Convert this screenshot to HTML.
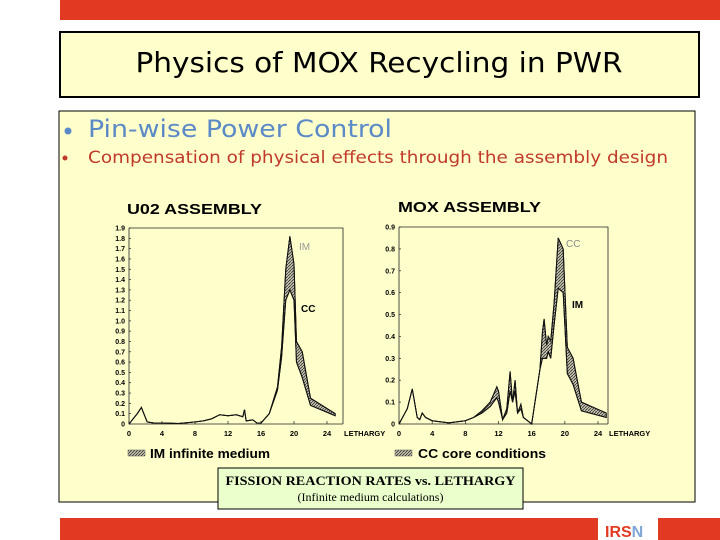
<!DOCTYPE html>
<html><head><meta charset="utf-8"><style>
html,body{margin:0;padding:0;background:#fff;}
svg{display:block;}
text{font-family:"Liberation Sans",sans-serif;}
</style></head><body>
<svg id="s" width="720" height="540" viewBox="0 0 720 540" xmlns="http://www.w3.org/2000/svg">
<defs>
<pattern id="hatch" width="3" height="3" patternUnits="userSpaceOnUse">
<rect width="3" height="3" fill="#c9c6b0"/>
<path d="M0,3 L3,0" stroke="#333" stroke-width="0.8"/>
</pattern>
</defs>
<rect x="60" y="0" width="660" height="20" fill="#e23a22"/>
<rect x="60" y="32" width="639" height="65" fill="#ffffcc" stroke="#000" stroke-width="2"/>
<text x="379" y="72" font-size="28" text-anchor="middle" textLength="487" lengthAdjust="spacingAndGlyphs" fill="#000" style='font-family:"DejaVu Sans Condensed","Liberation Sans",sans-serif'>Physics of MOX Recycling in PWR</text>
<rect x="59" y="111" width="636" height="391" fill="#ffffcc" stroke="#000" stroke-width="1"/>
<circle cx="68" cy="131" r="3.5" fill="#5b8ac6"/>
<text x="88" y="137" font-size="24" fill="#5b8ac6" textLength="304" lengthAdjust="spacingAndGlyphs" style='font-family:"DejaVu Sans Condensed","Liberation Sans",sans-serif'>Pin-wise Power Control</text>
<circle cx="65" cy="158" r="2.5" fill="#c0392b"/>
<text x="88" y="163" font-size="17" fill="#c0392b" textLength="580" lengthAdjust="spacingAndGlyphs" style='font-family:"DejaVu Sans Condensed","Liberation Sans",sans-serif'>Compensation of physical effects through the assembly design</text>

<text x="127" y="214" font-size="15" font-weight="bold" textLength="135" lengthAdjust="spacingAndGlyphs">U02 ASSEMBLY</text>
<text x="398" y="212" font-size="15" font-weight="bold" textLength="143" lengthAdjust="spacingAndGlyphs">MOX ASSEMBLY</text>
<g id="c1"></g><g id="c2"></g>

<rect x="128" y="450" width="17" height="6" fill="url(#hatch)" stroke="#555" stroke-width="0.5"/>
<text x="150" y="458" font-size="13" font-weight="bold" textLength="120" lengthAdjust="spacingAndGlyphs">IM infinite medium</text>
<rect x="395" y="450" width="17" height="6" fill="url(#hatch)" stroke="#555" stroke-width="0.5"/>
<text x="418" y="458" font-size="13" font-weight="bold" textLength="128" lengthAdjust="spacingAndGlyphs">CC core conditions</text>

<rect x="218" y="468" width="305" height="41" fill="#eaffcc" stroke="#000" stroke-width="1"/>
<text x="370.5" y="485" font-size="12.5" font-weight="bold" text-anchor="middle" textLength="290" lengthAdjust="spacingAndGlyphs" style='font-family:"Liberation Serif",serif'>FISSION REACTION RATES  vs. LETHARGY</text>
<text x="370.5" y="501" font-size="12" text-anchor="middle" style='font-family:"Liberation Serif",serif'>(Infinite medium calculations)</text>

<rect x="60" y="518" width="660" height="22" fill="#e23a22"/>
<rect x="598" y="518" width="60" height="22" fill="#fff"/>
<text x="605" y="537" font-size="16" font-weight="bold" fill="#e23a22">IRS<tspan fill="#7fa6d6">N</tspan></text>
</svg>
<script>
// UO2 assembly data
const uoX  = [0,0.5,1,1.5,1.8,2.2,3,4,6,8,9,10,11,12,13,13.8,14,14.2,15,15.5,16,17,18,18.5,19,19.5,20,20.3,21,22,25];
const uoIM = [0,0.05,0.1,0.16,0.1,0.02,0.01,0.01,0.005,0.02,0.03,0.05,0.09,0.08,0.09,0.07,0.14,0.03,0.04,0.01,0.01,0.1,0.36,0.75,1.5,1.82,1.55,0.8,0.7,0.25,0.1];
const uoCC = [0,0.05,0.1,0.16,0.1,0.02,0.01,0.01,0.005,0.02,0.03,0.05,0.09,0.08,0.09,0.07,0.14,0.03,0.04,0.01,0.01,0.1,0.33,0.65,1.2,1.3,1.2,0.6,0.45,0.18,0.08];
const uoYTicks = ["0","0.1","0.2","0.3","0.4","0.5","0.6","0.7","0.8","0.9","1.0","1.1","1.2","1.3","1.4","1.5","1.6","1.7","1.8","1.9"];
// MOX assembly data
const moX  = [0,1,1.6,2.2,2.5,2.8,3.2,4,6,8,9,10,11,11.8,12,12.5,13,13.4,13.7,14,14.3,14.7,15,16,17,17.3,17.5,17.8,18,18.3,18.7,19.2,19.8,20.3,21,22,25];
const moCC = [0,0.07,0.16,0.03,0.02,0.05,0.03,0.015,0.005,0.015,0.03,0.06,0.1,0.17,0.15,0.02,0.07,0.24,0.1,0.2,0.05,0.09,0.03,0,0.25,0.42,0.48,0.36,0.4,0.38,0.55,0.85,0.8,0.35,0.3,0.1,0.05];
const moIM = [0,0.07,0.16,0.03,0.02,0.05,0.03,0.015,0.005,0.015,0.03,0.05,0.08,0.12,0.1,0.02,0.05,0.15,0.1,0.15,0.05,0.07,0.03,0,0.25,0.3,0.3,0.3,0.33,0.3,0.45,0.62,0.6,0.23,0.18,0.06,0.03];
const moYTicks = ["0","0.1","0.2","0.3","0.4","0.5","0.6","0.7","0.8","0.9"];
const xTicks = ["0","4","8","12","16","20","24"];

const NS="http://www.w3.org/2000/svg";
function mk(tag,attrs,parent){const e=document.createElementNS(NS,tag);for(const k in attrs)e.setAttribute(k,attrs[k]);parent.appendChild(e);return e;}

function chart(g,xs,up,lo,yTicks,yMax,x0,x24,right,yTop,yBot,prefix,labels){
  const sx=v=>x0+(x24-x0)*v/24, sy=v=>yBot-(yBot-yTop)*v/yMax;
  const frame=mk('path',{d:`M${x0},${yTop} L${right},${yTop} L${right},${yBot} M${x0},${yTop} L${x0},${yBot} L${right},${yBot}`,fill:'none',stroke:'#222','stroke-width':0.8},g);
  
  
  yTicks.forEach((t,i)=>{const v=parseFloat(t),y=sy(v);
    const tx=mk('text',{x:x0-4,y:y+2.5,'font-size':7,'font-weight':'bold','text-anchor':'end'},g);tx.textContent=t;
    
    
    mk('line',{x1:x0,x2:x0+2,y1:y,y2:y,stroke:'#222','stroke-width':0.7},g);
  });
  xTicks.forEach(t=>{const v=+t,x=sx(v);
    const tx=mk('text',{x:x,y:yBot+12,'font-size':7.5,'font-weight':'bold','text-anchor':'middle'},g);tx.textContent=t;
    
    
    mk('line',{x1:x,x2:x,y1:yBot,y2:yBot-3,stroke:'#222','stroke-width':0.7},g);
  });
  const xl=mk('text',{x:right+1,y:yBot+12,'font-size':7.5,'font-weight':'bold'},g);xl.textContent='LETHARGY';
  
  
  let pts=xs.map((x,i)=>sx(x)+','+sy(up[i]));
  let pts2=xs.map((x,i)=>sx(x)+','+sy(lo[i])).reverse();
  const band=mk('polygon',{points:pts.concat(pts2).join(' '),fill:'url(#hatch)',stroke:'#111','stroke-width':1},g);
  
  
  const l1=mk('polyline',{points:pts.join(' '),fill:'none',stroke:'#111','stroke-width':1},g);
  
  
  const l2=mk('polyline',{points:pts2.join(' '),fill:'none',stroke:'#111','stroke-width':1},g);
  
  
  labels.forEach(L=>{const t=mk('text',{x:L[0],y:L[1],'font-size':10,'font-weight':L[3],fill:L[4]},g);t.textContent=L[2];
    
    });
}
chart(document.getElementById('c1'),uoX,uoIM,uoCC,uoYTicks,1.9,129,327,343,228,424,'uo2',
  [[299,250,'IM','normal','#999'],[301,312,'CC','bold','#000']]);
chart(document.getElementById('c2'),moX,moCC,moIM,moYTicks,0.9,399,598,608,227,424,'mox',
  [[566,247,'CC','normal','#888'],[572,308,'IM','bold','#000']]);
</script>
</body></html>
